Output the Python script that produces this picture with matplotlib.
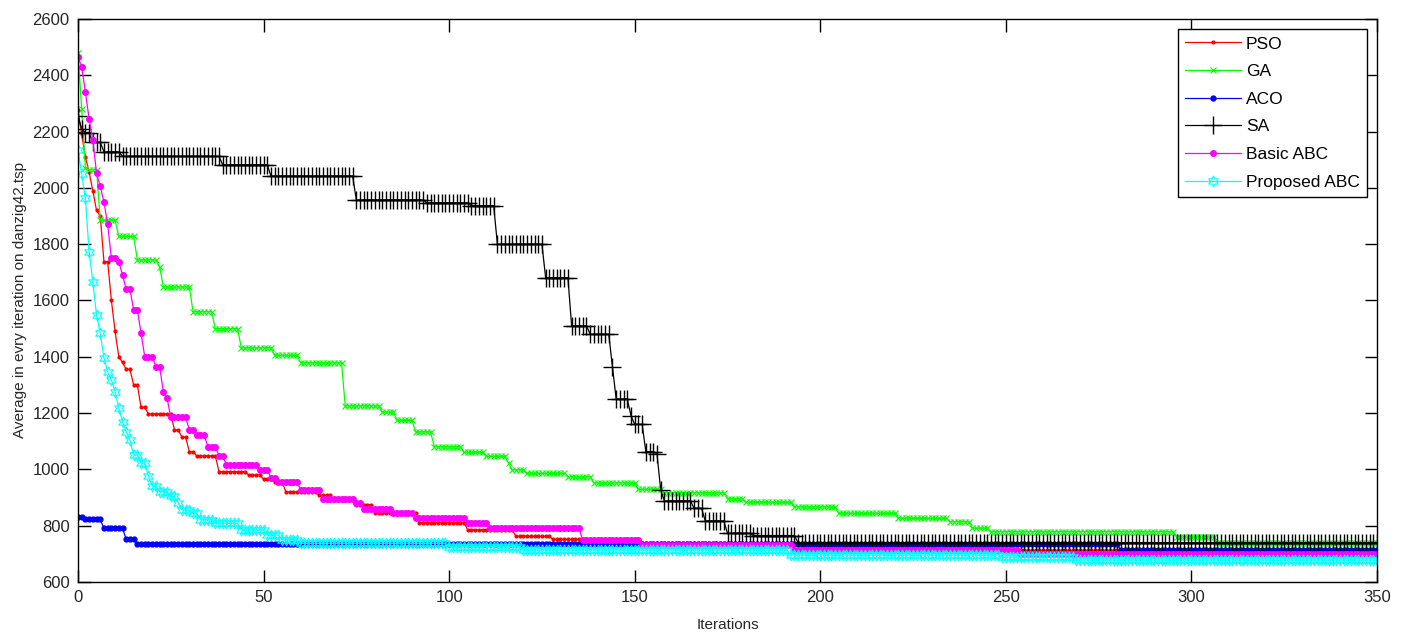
import matplotlib
matplotlib.use('Agg')
import matplotlib.pyplot as plt
import numpy as np

plt.rcParams['font.family'] = ['Liberation Sans', 'DejaVu Sans']

n_iter = 350
labels = ['PSO', 'GA', 'ACO', 'SA', 'Basic ABC', 'Proposed ABC']

# step curves: iteration where a new value starts, and that value
pso_start = [0, 1, 2, 3, 4, 5, 6, 7, 9, 10, 11, 12, 13, 15, 17, 19, 26, 28, 30, 32, 38, 46, 50, 53,
             56, 65, 69, 75, 80, 92, 105, 118, 128, 136, 195, 251]
pso_val = [2275, 2190, 2110, 2055, 1990, 1920, 1900, 1738, 1600, 1490, 1400, 1380, 1355, 1300, 1220,
           1197, 1140, 1115, 1063, 1048, 992, 980, 965, 955, 920, 908, 890, 875, 845, 811, 785, 762,
           751, 738, 728, 712]

ga_start = [0, 1, 2, 3, 6, 11, 16, 22, 23, 31, 37, 44, 53, 60, 72, 82, 86, 91, 96, 104, 110, 116,
            117, 121, 132, 139, 151, 158, 175, 180, 193, 205, 221, 235, 241, 246, 296, 307]
ga_val = [2480, 2280, 2070, 2065, 1885, 1828, 1744, 1720, 1648, 1560, 1500, 1432, 1405, 1379, 1226,
          1203, 1174, 1133, 1081, 1060, 1046, 1022, 998, 986, 974, 952, 929, 917, 896, 883, 867, 844,
          826, 814, 791, 779, 759, 738]

aco_start = [0, 2, 7, 13, 16, 281]
aco_val = [830, 822, 790, 752, 734, 712]

sa_start = [0, 1, 2, 4, 7, 12, 39, 52, 75, 94, 106, 113, 126, 133, 138, 144, 145, 149, 150, 153,
            156, 157, 158, 166, 169, 175, 182, 194]
sa_val = [2255, 2210, 2195, 2162, 2128, 2112, 2082, 2042, 1957, 1947, 1937, 1800, 1681, 1510, 1480,
          1365, 1250, 1190, 1160, 1063, 1055, 927, 888, 862, 817, 773, 765, 740]

abc_start = [0, 1, 2, 3, 4, 5, 6, 7, 8, 9, 11, 12, 13, 15, 17, 18, 21, 23, 24, 25, 30, 32, 35, 38,
             40, 49, 52, 54, 60, 66, 75, 77, 85, 91, 105, 111, 136, 152, 193, 254]
abc_val = [2465, 2430, 2340, 2245, 2170, 2052, 2005, 1950, 1870, 1750, 1738, 1690, 1640, 1566, 1483,
           1400, 1365, 1276, 1253, 1186, 1140, 1122, 1080, 1048, 1015, 998, 971, 955, 927, 896, 880,
           858, 844, 828, 810, 790, 748, 730, 715, 700]

pabc_start = [0, 1, 2, 3, 4, 5, 6, 7, 8, 9, 10, 11, 12, 13, 14, 15, 17, 19, 20, 22, 25, 27, 28, 31,
              33, 37, 44, 51, 55, 60, 100, 120, 192, 249, 269]
pabc_val = [2135, 2050, 1963, 1773, 1667, 1549, 1483, 1395, 1347, 1318, 1276, 1217, 1170, 1134, 1104,
            1051, 1022, 975, 940, 921, 904, 880, 856, 844, 821, 809, 785, 767, 750, 738, 726, 714,
            696, 688, 678]


def expand(starts, vals):
    counts = np.diff(starts + [n_iter + 1])
    return np.repeat(vals, counts)


x = np.arange(n_iter + 1)

fig = plt.figure(figsize=(14.05, 6.35), dpi=100)
ax = fig.add_axes([0.0555, 0.0835, 0.9246, 0.8866])

lw = 0.9
ax.plot(x, expand(pso_start, pso_val), color=(1, 0, 0), marker='.', ms=4, lw=lw, label=labels[0])
ax.plot(x, expand(ga_start, ga_val), color=(0, 1, 0), marker='x', ms=5, mew=0.8, lw=lw, label=labels[1])
ax.plot(x, expand(aco_start, aco_val), color=(0, 0, 1), marker='.', ms=7, lw=lw, label=labels[2])
ax.plot(x, expand(sa_start, sa_val), color='k', marker='+', ms=13, mew=1.0, lw=lw, label=labels[3])
ax.plot(x, expand(abc_start, abc_val), color=(1, 0, 1), marker='.', ms=8, lw=lw, label=labels[4])
ax.plot(x, expand(pabc_start, pabc_val), color=(0, 1, 1), marker=(6, 1, 0), ms=8, mfc='none', mew=0.8,
        lw=lw, label=labels[5])

ax.set_xlim(0, 350)
ax.set_ylim(600, 2600)
ax.set_xticks(np.arange(0, 351, 50))
ax.set_yticks(np.arange(600, 2601, 200))
ax.tick_params(direction='in', length=9, width=1, top=True, right=True, labelsize=12, pad=6,
               labelcolor='0.15')
for s in ax.spines.values():
    s.set_linewidth(1)

ax.set_xlabel('Iterations', fontsize=11, labelpad=9, color='0.15')
ax.set_ylabel('Average in evry iteration on danzig42.tsp', fontsize=11, labelpad=4, color='0.15')

leg = ax.legend(loc='upper right', fontsize=12.5, fancybox=False, framealpha=1, edgecolor='k',
                handlelength=3.2, handletextpad=0.3, labelspacing=0.72, borderaxespad=0.6)
leg.get_frame().set_linewidth(1)

fig.savefig('out.png', dpi=100)
